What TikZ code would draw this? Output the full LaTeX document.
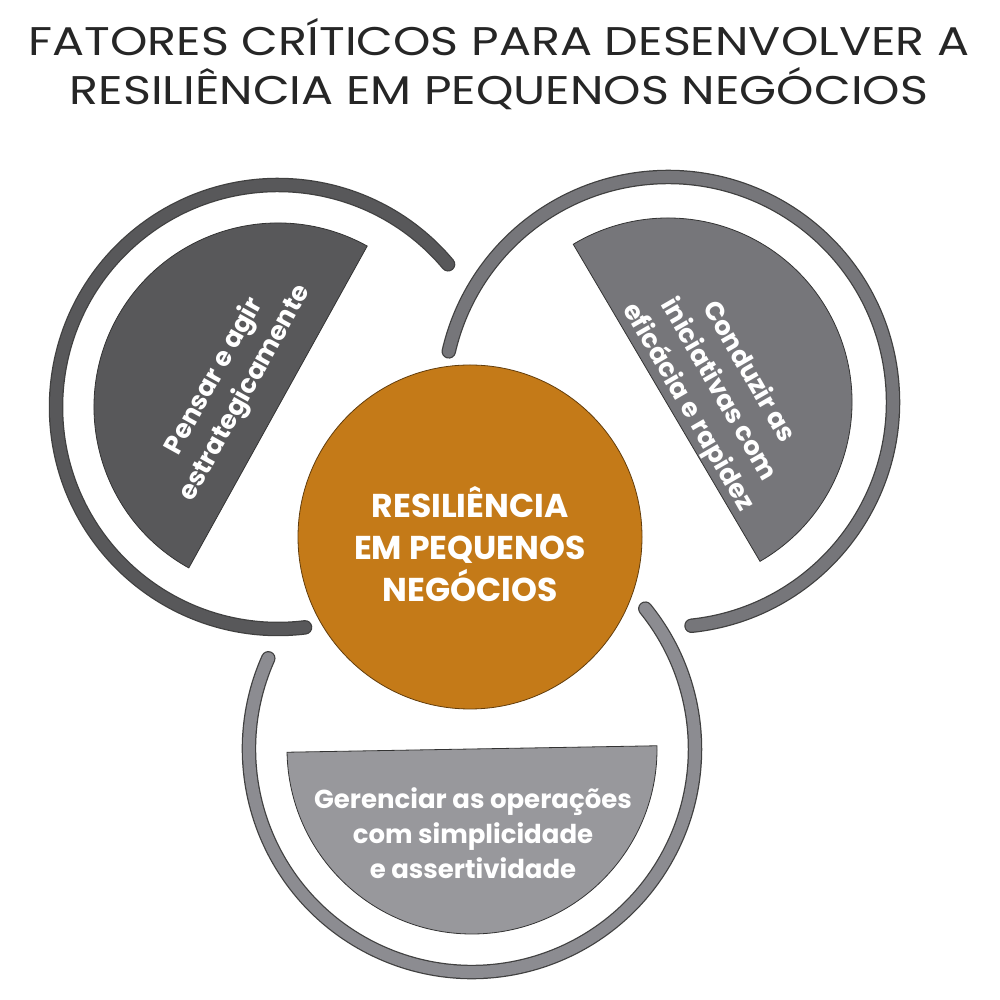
\documentclass[tikz,border=0pt]{standalone}
\usepackage{fontspec}
\setmainfont{Poppins}
\begin{document}
\begin{tikzpicture}[x=1pt,y=1pt]
\definecolor{cL}{HTML}{58585A}
\definecolor{cR}{HTML}{76767A}
\definecolor{cB}{HTML}{8C8C91}
\definecolor{cBd}{HTML}{98989C}
\definecolor{cO}{HTML}{C47A18}
\tikzset{
  ringout/.style={line width=14.5pt,line cap=round,draw=black!75},
  ringin/.style={line width=12pt,line cap=round},
  half/.style={draw=black!80,line width=0.8pt},
  lbl/.style={text=white,font=\bfseries\fontsize{26}{35}\selectfont,align=center},
}
\useasboundingbox (0,0) rectangle (1000,1000);
\coordinate (L) at (278,593);
\coordinate (R) at (668,598);
\coordinate (B) at (472,251);
% title
\node (title) at (499,936) [font=\fontsize{40}{49}\selectfont,align=center,text=black!85,xscale=1.19] {FATORES CRÍTICOS PARA DESENVOLVER A\\RESILIÊNCIA EM PEQUENOS NEGÓCIOS};
% rings
\draw[ringout] (L) ++(40:222) arc[start angle=40,end angle=277,radius=222];
\draw[ringin,draw=cL] (L) ++(40:222) arc[start angle=40,end angle=277,radius=222];
\draw[ringout] (R) ++(-84:225) arc[start angle=-84,end angle=167,radius=225];
\draw[ringin,draw=cR] (R) ++(-84:225) arc[start angle=-84,end angle=167,radius=225];
\draw[ringout] (B) ++(156:223) arc[start angle=156,end angle=399,radius=223];
\draw[ringin,draw=cB] (B) ++(156:223) arc[start angle=156,end angle=399,radius=223];
% half disks
\filldraw[half,fill=cL] (L) ++(61:184) arc[start angle=61,end angle=241,radius=184] -- cycle;
\filldraw[half,fill=cR] (R) ++(-60:184) arc[start angle=-60,end angle=121,radius=184] -- cycle;
\filldraw[half,fill=cBd] (B) ++(181:185) arc[start angle=181,end angle=361,radius=185] -- cycle;
% center
\draw[white,line width=10pt] (470,463) circle (172);
\node (center) at (470,463) [circle,minimum size=344pt,fill=cO,draw=black!50!cO,line width=0.8pt] {};
\node (ctext) at (470,456) [text=white,font=\bfseries\fontsize{33}{42}\selectfont,align=center] {RESILIÊNCIA\\EM PEQUENOS\\NEGÓCIOS};
% labels
\node (lt) at (230,615) [lbl,rotate=61] {Pensar e agir\\estrategicamente};
\node (rt) at (718,610) [lbl,rotate=-60] {Conduzir as\\iniciativas com\\eficácia e rapidez};
\node (bt) at (473,167) [lbl] {Gerenciar as operações\\com simplicidade\\e assertividade};
\end{tikzpicture}
\end{document}
